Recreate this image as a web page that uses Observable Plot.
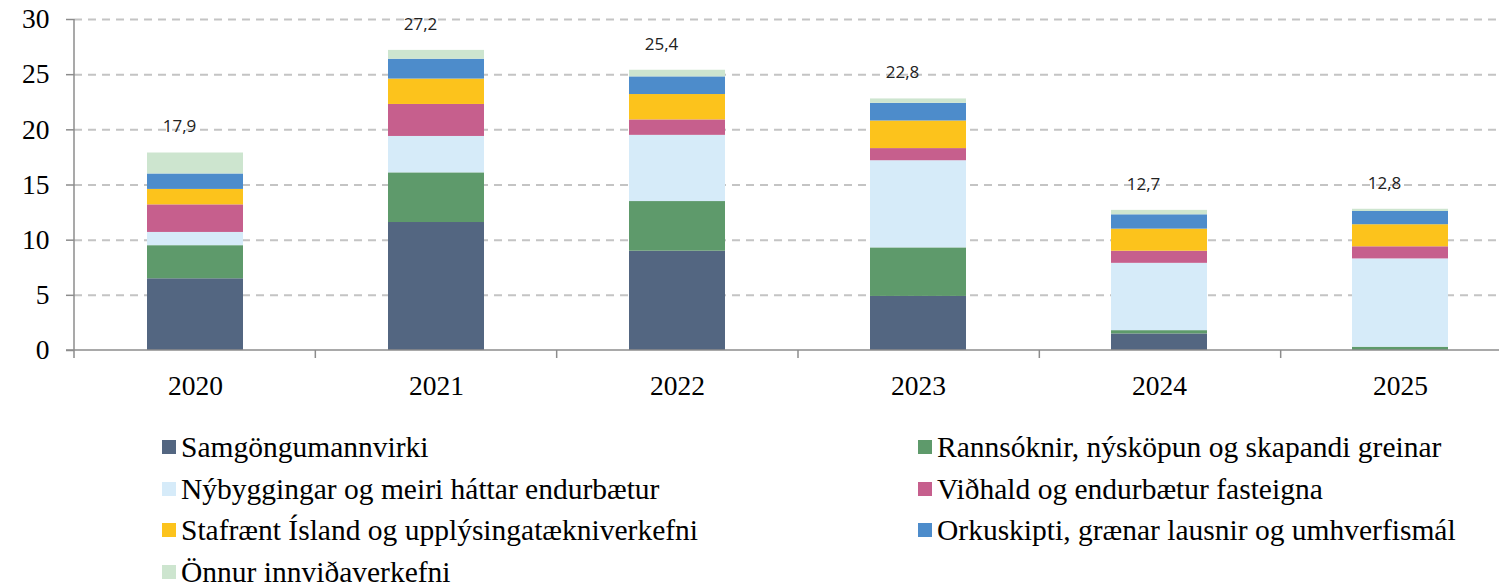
<!DOCTYPE html>
<html><head><meta charset="utf-8">
<script src="https://cdn.jsdelivr.net/npm/d3@7"></script>
<script src="https://cdn.jsdelivr.net/npm/@observablehq/plot@0.6"></script>
<style>
html,body{margin:0;padding:0;overflow:hidden;background:#fff;width:1499px;height:587px}
#chart{position:relative;width:1499px;height:587px;overflow:hidden}
#chart svg{max-width:none !important;position:absolute;left:0;top:0}
.lg{position:absolute;left:0;top:0;font-family:'Liberation Serif',serif;font-size:29.5px;color:#000}
.item{position:absolute;display:flex;align-items:center;white-space:nowrap;height:30px;line-height:30px;font-family:'Liberation Serif',serif;font-size:29.5px}
.sw{width:14px;height:14px;margin-right:5px;flex:none}
</style></head>
<body><div id="chart"></div>
<script>
const years = ["2020", "2021", "2022", "2023", "2024", "2025"];
const seriesNames = [
  "Samgöngumannvirki",
  "Rannsóknir, nýsköpun og skapandi greinar",
  "Nýbyggingar og meiri háttar endurbætur",
  "Viðhald og endurbætur fasteigna",
  "Stafrænt Ísland og upplýsingatækniverkefni",
  "Orkuskipti, grænar lausnir og umhverfismál",
  "Önnur innviðaverkefni"
];
const seriesColors = ["#536681", "#5e9a6b", "#d6ebf9", "#c65f8d", "#fcc31c", "#4d8ccb", "#cde5cf"];
const samgongur = [6.5, 11.6, 9.0, 4.9, 1.5, 0.0];
const rannsoknir = [3.0, 4.5, 4.5, 4.4, 0.3, 0.3];
const nybyggingar = [1.2, 3.3, 6.0, 7.9, 6.1, 8.0];
const vidhald = [2.5, 2.9, 1.4, 1.1, 1.1, 1.1];
const stafraent = [1.4, 2.3, 2.3, 2.5, 2.0, 2.0];
const orkuskipti = [1.4, 1.8, 1.6, 1.6, 1.3, 1.2];
const onnur = [1.9, 0.8, 0.6, 0.4, 0.4, 0.2];
const totals = [17.9, 27.2, 25.4, 22.8, 12.7, 12.8];
const yTicks = [0, 5, 10, 15, 20, 25, 30];

const seriesValues = [samgongur, rannsoknir, nybyggingar, vidhald, stafraent, orkuskipti, onnur];
const rows = [];
seriesNames.forEach((s, si) => years.forEach((y, yi) => rows.push({year: y, series: s, value: seriesValues[si][yi]})));
const totalRows = years.map((y, i) => ({year: y, total: totals[i]}));
const fmt = v => d3.format(".1f")(v).replace(".", ",");

function axisLines(index, scales, values, dims) {
  const g = d3.create("svg:g").attr("stroke", "#8c8c8c").attr("stroke-width", 1.5).attr("fill", "none");
  const x0 = dims.marginLeft, x1 = dims.width - dims.marginRight;
  const y0 = scales.y(0), yTop = scales.y(30);
  g.append("line").attr("x1", x0).attr("x2", x0).attr("y1", yTop).attr("y2", y0 + 8);
  g.append("line").attr("x1", x0 - 8).attr("x2", x1).attr("y1", y0).attr("y2", y0);
  const step = (x1 - x0) / years.length;
  for (let i = 1; i <= years.length; i++) {
    const x = x0 + i * step;
    g.append("line").attr("x1", x).attr("x2", x).attr("y1", y0).attr("y2", y0 + 8);
  }
  return g.node();
}

const plot = Plot.plot({
  width: 1522,
  height: 410,
  marginLeft: 74,
  marginRight: 0,
  marginTop: 19,
  marginBottom: 60,
  style: {fontFamily: "'Liberation Serif',serif", fontSize: "27.5px", color: "#000", background: "transparent", overflow: "visible"},
  x: {domain: years, paddingInner: 0.6, paddingOuter: 0.3, label: null},
  y: {domain: [0, 30], label: null},
  color: {domain: seriesNames, range: seriesColors},
  marks: [
    Plot.ruleY(yTicks.filter(d => d > 0), {stroke: "#c4c4c4", strokeWidth: 2, strokeDasharray: "8,6"}),
    Plot.barY(rows, {x: "year", y: "value", fill: "series", order: seriesNames}),
    Plot.text(totalRows, {x: "year", y: "total", text: d => fmt(d.total), dy: -26, dx: -16,
      fontFamily: "'Open Sans','Noto Sans',sans-serif", fontSize: 17, fill: "#222"}),
    Plot.axisY({ticks: yTicks, tickFormat: d => String(d), tickSize: 8, tickPadding: 17, stroke: "#8c8c8c", strokeWidth: 1.5, fill: "#000", label: null}),
    Plot.axisX({tickSize: 0, tickPadding: 25, fill: "#000", label: null}),
    axisLines
  ]
});
const chart = document.getElementById("chart");
chart.appendChild(plot);

const legend = document.createElement("div");
legend.className = "lg";
const colLeft = [162, 918];
seriesNames.forEach((s, i) => {
  const col = i % 2, row = Math.floor(i / 2);
  const item = document.createElement("div");
  item.className = "item";
  item.style.left = colLeft[col] + "px";
  item.style.top = (432 + row * 41.5) + "px";
  const sw = document.createElement("span");
  sw.className = "sw";
  sw.style.background = seriesColors[i];
  const tx = document.createElement("span");
  tx.textContent = s;
  item.appendChild(sw); item.appendChild(tx);
  legend.appendChild(item);
});
chart.appendChild(legend);
</script>
</body></html>
